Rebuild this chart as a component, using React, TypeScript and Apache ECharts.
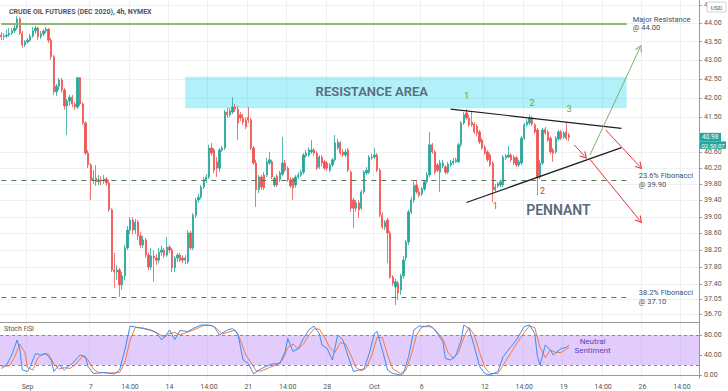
import React, { useEffect, useRef } from 'react';
import * as echarts from 'echarts';

const FONT = 'Roboto, "DejaVu Sans", sans-serif';

// ---------- time axis ----------
const tradingDays = [
  '08-28', '08-31', '09-01', '09-02', '09-03', '09-04',
  '09-07', '09-08', '09-09', '09-10', '09-11',
  '09-14', '09-15', '09-16', '09-17', '09-18',
  '09-21', '09-22', '09-23', '09-24', '09-25',
  '09-28', '09-29', '09-30', '10-01', '10-02',
  '10-05', '10-06', '10-07', '10-08', '10-09',
  '10-12', '10-13', '10-14', '10-15', '10-16',
  '10-19', '10-20', '10-21', '10-22', '10-23',
  '10-26', '10-27', '10-28', '10-29',
];
const barHours = ['02:00', '06:00', '10:00', '14:00', '18:00', '22:00'];
const firstBar = '08-28 10:00';
const lastBar = '10-29 14:00';

const xTickLabels: [string, string][] = [
  ['09-01 02:00', 'Sep'], ['09-07 02:00', '7'], ['09-09 14:00', '14:00'],
  ['09-14 02:00', '14'], ['09-16 14:00', '14:00'], ['09-21 02:00', '21'],
  ['09-23 14:00', '14:00'], ['09-28 02:00', '28'], ['10-01 02:00', 'Oct'],
  ['10-06 02:00', '6'], ['10-12 02:00', '12'], ['10-14 14:00', '14:00'],
  ['10-19 02:00', '19'], ['10-21 14:00', '14:00'], ['10-26 02:00', '26'],
  ['10-28 14:00', '14:00'],
];

// ---------- price axis ----------
const priceMin = 36.524;
const priceMax = 44.644;
const priceTicks = [44.5, 44, 43.5, 43, 42.5, 42, 41.5, 40.6, 40.2, 39.8, 39.4, 39, 38.6, 38.2, 37.8, 37.4, 37.05, 36.7];
const stochTicks = [80, 40, 0];

// ---------- candles: [open, close, low, high] ----------
const candles = [
  [43.68, 43.63, 43.54, 43.76], [43.63, 43.65, 43.54, 43.73], [43.65, 43.68, 43.60, 43.82], [43.68, 43.73, 43.63, 43.87], [43.73, 43.79, 43.68, 43.87],
  [43.79, 43.87, 43.73, 43.98], [43.87, 44.12, 43.82, 44.20], [44.12, 43.73, 43.68, 44.17], [43.73, 43.41, 43.33, 43.79], [43.41, 43.49, 43.35, 43.54],
  [43.49, 43.54, 43.44, 43.60], [43.54, 43.65, 43.49, 43.71], [43.65, 43.79, 43.60, 43.90], [43.79, 43.87, 43.71, 43.93], [43.87, 43.63, 43.54, 43.90],
  [43.63, 43.71, 43.57, 43.79], [43.71, 43.79, 43.65, 43.84], [43.79, 43.84, 43.73, 43.90], [43.84, 43.54, 43.46, 43.87], [43.54, 43.09, 43.01, 43.60],
  [43.09, 42.16, 42.08, 43.14], [42.16, 42.31, 42.05, 42.37], [42.31, 42.47, 42.21, 42.53], [42.47, 42.21, 42.13, 42.53], [42.21, 41.79, 41.69, 42.26],
  [41.79, 41.92, 41.04, 41.97], [41.92, 42.02, 41.79, 42.08], [42.02, 41.84, 41.76, 42.08], [41.84, 41.76, 41.69, 41.89], [41.76, 42.53, 41.71, 42.55],
  [42.53, 41.84, 41.79, 42.55], [41.84, 41.35, 41.30, 41.89], [41.35, 40.58, 40.53, 41.40], [40.58, 40.28, 40.20, 40.66], [40.28, 39.91, 39.41, 40.33],
  [39.91, 39.95, 39.81, 40.15], [39.95, 39.86, 39.76, 40.28], [39.86, 39.91, 39.78, 40.03], [39.91, 39.88, 39.78, 40.00], [39.88, 39.93, 39.81, 40.03],
  [39.93, 39.83, 39.76, 39.98], [39.83, 39.17, 39.12, 39.91], [39.17, 37.73, 37.68, 39.21], [37.73, 37.68, 37.31, 38.13], [37.68, 37.73, 37.49, 37.84],
  [37.73, 37.38, 37.10, 37.78], [37.38, 37.59, 37.26, 37.68], [37.59, 38.25, 37.49, 38.32], [38.25, 38.68, 38.20, 38.78], [38.68, 38.92, 38.58, 38.99],
  [38.92, 38.68, 38.58, 38.99], [38.68, 38.87, 38.58, 38.95], [38.87, 38.54, 38.44, 38.92], [38.54, 38.32, 38.25, 38.63], [38.32, 38.44, 38.25, 38.54],
  [38.44, 38.08, 38.01, 38.49], [38.08, 37.80, 37.73, 38.15], [37.80, 38.06, 37.73, 38.25], [38.06, 38.01, 37.45, 38.20], [38.01, 37.96, 37.84, 38.11],
  [37.96, 38.15, 37.89, 38.25], [38.15, 38.20, 38.06, 38.30], [38.20, 38.08, 38.01, 38.25], [38.08, 38.27, 38.04, 38.51], [38.27, 38.20, 38.13, 38.32],
  [38.20, 37.78, 37.68, 38.25], [37.78, 38.01, 37.68, 38.06], [38.01, 38.08, 37.92, 38.13], [38.08, 37.96, 37.92, 38.13], [38.01, 37.96, 37.89, 38.08],
  [37.96, 38.01, 37.87, 38.08], [37.92, 38.61, 37.87, 38.68], [38.61, 38.25, 38.20, 38.66], [38.25, 39.04, 38.20, 39.09], [39.04, 39.41, 38.97, 39.46],
  [39.41, 39.48, 39.34, 39.56], [39.48, 39.73, 39.43, 39.78], [39.73, 39.91, 39.68, 39.98], [39.91, 39.98, 39.83, 40.05], [39.98, 40.71, 39.93, 40.79],
  [40.71, 40.58, 40.51, 40.84], [40.66, 40.15, 40.08, 40.71], [40.36, 40.20, 39.98, 40.48], [40.20, 40.66, 40.10, 40.71], [40.66, 40.71, 40.61, 40.76],
  [40.71, 41.63, 40.66, 41.69], [41.63, 41.56, 41.48, 41.74], [41.56, 41.66, 41.50, 41.74], [41.63, 41.76, 41.58, 42.02], [41.76, 41.71, 41.63, 41.84],
  [41.71, 41.35, 40.91, 41.79], [41.56, 41.48, 41.40, 41.63], [41.48, 41.37, 41.30, 41.58], [41.43, 41.25, 41.19, 41.50], [41.50, 41.43, 41.35, 41.76],
  [41.43, 40.71, 40.66, 41.48], [40.71, 40.33, 40.28, 40.76], [40.33, 39.66, 39.24, 40.41], [39.66, 39.98, 39.58, 40.03], [39.98, 39.73, 39.66, 40.03],
  [40.03, 39.71, 39.66, 40.10], [40.03, 40.36, 39.98, 40.46], [40.33, 40.41, 40.28, 40.61], [40.36, 39.98, 39.93, 40.41], [39.78, 39.95, 39.73, 40.00],
  [40.00, 39.78, 39.73, 40.05], [39.91, 40.08, 39.86, 40.13], [40.05, 40.33, 40.00, 40.99], [40.33, 40.15, 40.10, 40.41], [40.20, 39.91, 39.86, 40.25],
  [39.91, 39.76, 39.71, 39.98], [39.95, 39.71, 39.41, 39.95], [39.78, 39.98, 39.71, 40.03], [39.98, 40.03, 39.93, 40.10], [40.03, 40.10, 39.98, 40.15],
  [40.10, 40.53, 40.05, 40.58], [40.51, 40.58, 40.46, 40.66], [40.53, 40.66, 40.48, 40.73], [40.61, 40.66, 40.56, 40.91], [40.66, 40.58, 40.51, 40.71],
  [40.58, 40.20, 40.15, 40.63], [40.23, 40.48, 40.18, 40.53], [40.48, 40.33, 40.25, 40.53], [40.36, 40.20, 40.15, 40.41], [40.33, 40.20, 40.13, 40.38],
  [40.15, 40.28, 40.10, 40.33], [40.28, 40.41, 40.23, 40.46], [40.41, 40.84, 40.36, 41.04], [40.71, 40.86, 40.66, 40.94], [40.84, 40.58, 40.53, 40.89],
  [40.61, 40.53, 40.48, 40.68], [40.53, 40.61, 40.48, 40.68], [40.66, 40.15, 40.10, 40.71], [40.10, 39.21, 39.12, 40.15], [39.41, 39.21, 38.73, 39.46],
  [39.21, 39.34, 39.12, 39.41], [39.34, 39.17, 38.97, 39.41], [39.21, 39.61, 39.17, 39.66], [39.61, 40.10, 39.56, 40.15], [40.08, 40.15, 40.03, 40.23],
  [40.10, 40.48, 40.05, 40.53], [40.46, 40.48, 40.41, 40.56], [40.48, 40.53, 40.43, 40.71], [40.53, 40.15, 40.10, 40.58], [40.15, 39.04, 38.99, 40.20],
  [39.04, 38.75, 38.70, 39.12], [38.75, 38.87, 38.68, 38.92], [38.92, 38.61, 37.89, 38.97], [38.61, 37.56, 37.52, 38.66], [37.56, 37.42, 37.35, 37.61],
  [37.33, 37.45, 36.91, 37.52], [37.42, 37.19, 37.03, 37.47], [37.26, 37.59, 37.15, 37.64], [37.59, 37.96, 37.52, 38.06], [38.01, 38.39, 37.94, 38.44],
  [38.39, 39.12, 38.32, 39.17], [39.12, 39.41, 39.07, 39.48], [39.41, 39.76, 39.34, 39.86], [39.78, 39.61, 39.56, 39.91], [39.61, 39.53, 39.48, 39.71],
  [39.56, 39.68, 39.51, 39.73], [39.68, 39.86, 39.63, 39.91], [39.86, 40.03, 39.81, 40.10], [40.03, 40.79, 39.98, 41.12], [40.79, 40.61, 40.56, 40.84],
  [40.61, 40.10, 40.05, 40.66], [40.28, 40.15, 40.10, 40.33], [40.10, 40.33, 39.61, 40.41], [40.25, 40.33, 40.20, 40.41], [40.23, 40.10, 40.05, 40.28],
  [40.10, 40.30, 40.05, 40.36], [40.28, 40.33, 40.23, 40.41], [40.33, 40.38, 40.28, 40.46], [40.36, 40.41, 40.33, 40.46], [40.36, 40.79, 40.33, 40.84],
  [40.79, 41.35, 40.73, 41.40], [41.35, 41.56, 41.30, 41.63], [41.61, 41.48, 41.43, 41.71], [41.48, 41.30, 41.25, 41.56], [41.37, 41.30, 41.25, 41.63],
  [41.32, 41.12, 41.07, 41.37], [41.27, 41.09, 41.01, 41.32], [41.12, 40.86, 40.81, 41.17], [40.91, 40.71, 40.66, 40.96], [40.73, 40.58, 40.53, 40.79],
  [40.61, 40.41, 40.36, 40.66], [40.53, 40.28, 40.23, 40.58], [40.33, 39.66, 39.36, 40.38], [39.66, 39.73, 39.61, 39.81], [39.76, 39.81, 39.71, 39.86],
  [39.78, 39.86, 39.73, 39.91], [39.78, 40.48, 39.73, 40.53], [40.46, 40.51, 40.41, 40.56], [40.48, 40.53, 40.46, 40.76], [40.53, 40.41, 40.36, 40.58],
  [40.48, 40.33, 40.28, 40.53], [40.46, 40.28, 40.23, 40.51], [40.28, 40.36, 40.23, 40.41], [40.33, 40.96, 40.28, 41.01], [40.96, 41.30, 40.91, 41.35],
  [41.30, 41.37, 41.25, 41.45], [41.35, 41.48, 41.30, 41.56], [41.48, 41.32, 41.27, 41.53], [41.30, 41.12, 41.07, 41.35], [41.17, 39.98, 39.53, 41.22],
  [39.98, 40.33, 39.93, 40.41], [40.33, 41.17, 40.28, 41.22], [41.19, 41.09, 41.04, 41.25], [41.12, 40.91, 40.86, 41.17], [40.96, 40.61, 40.56, 41.01],
  [40.66, 40.58, 40.36, 40.71], [40.61, 40.96, 40.56, 41.01], [40.94, 41.12, 40.89, 41.17], [41.12, 40.96, 40.91, 41.17], [40.99, 41.09, 40.94, 41.14],
  [41.12, 40.96, 40.91, 41.37], [41.04, 40.98, 40.89, 41.09],
];
const lastPrice = 40.98;
const countdown = '02:50:07';

// ---------- Stoch RSI: [bar index, value] ----------
const stochK = [[0, 13], [2, 20], [4, 40], [6, 70], [7, 53], [8, 10], [10, 7], [11, 17], [13, 43], [15, 40], [17, 43], [19, 30], [20, 7], [22, 20], [24, 10], [25, 15], [27, 23], [30, 40], [32, 37], [33, 17], [35, 3], [39, 5], [43, 2], [45, 10], [47, 50], [49, 98], [52, 95], [54, 93], [57, 89], [59, 85], [61, 70], [63, 82], [64, 90], [66, 71], [68, 89], [71, 87], [73, 93], [76, 100], [79, 100], [81, 97], [83, 80], [86, 90], [88, 93], [90, 83], [92, 30], [94, 23], [96, 2], [98, 10], [101, 18], [103, 22], [106, 23], [108, 47], [109, 73], [111, 47], [113, 53], [115, 73], [117, 90], [119, 98], [121, 83], [122, 60], [124, 53], [126, 30], [128, 80], [130, 70], [132, 37], [134, 7], [136, 10], [138, 12], [140, 43], [142, 83], [143, 87], [145, 50], [147, 10], [149, 3], [152, 0], [153, 3], [155, 37], [157, 90], [159, 98], [161, 97], [163, 99], [165, 90], [168, 67], [169, 33], [171, 30], [173, 40], [175, 70], [176, 100], [178, 93], [180, 57], [182, 17], [184, 3], [186, 0], [189, 7], [191, 37], [194, 57], [196, 70], [199, 97], [201, 100], [203, 83], [204, 37], [205, 20], [207, 60], [209, 50], [210, 40], [213, 53], [215, 55], [216, 60]];
const stochD = [[0, 18], [3, 18], [5, 35], [7, 62], [9, 45], [10, 15], [12, 10], [14, 35], [16, 42], [18, 42], [20, 22], [22, 12], [24, 15], [26, 13], [28, 20], [31, 38], [33, 30], [35, 12], [37, 5], [41, 4], [45, 5], [47, 25], [49, 70], [51, 95], [54, 94], [57, 90], [60, 82], [62, 75], [64, 83], [66, 85], [68, 80], [71, 86], [74, 92], [77, 99], [80, 99], [82, 93], [84, 82], [86, 85], [89, 90], [91, 70], [93, 40], [95, 25], [97, 8], [99, 8], [102, 15], [105, 21], [107, 30], [109, 55], [111, 62], [113, 52], [115, 62], [117, 80], [119, 92], [121, 92], [123, 75], [125, 55], [127, 45], [129, 65], [131, 62], [133, 40], [135, 15], [137, 8], [139, 15], [141, 40], [143, 75], [145, 75], [147, 40], [149, 12], [152, 3], [154, 10], [156, 40], [158, 80], [160, 96], [162, 97], [164, 96], [166, 85], [168, 72], [170, 45], [172, 33], [174, 45], [176, 75], [178, 95], [180, 80], [182, 45], [184, 15], [186, 3], [189, 3], [191, 20], [194, 45], [196, 62], [199, 85], [201, 98], [203, 95], [205, 55], [207, 35], [209, 50], [211, 45], [213, 45], [216, 55]];
const stochBand = [20, 80];

// ---------- annotations (data coordinates: [bar index, price]) ----------
const majorResistance = 44.0;
const fib236 = 39.9;
const fib382 = 37.1;
const levelEndIndex = 238;
const resistanceArea = { fromIndex: 70, toIndex: 238, top: 42.56, bottom: 41.73 };
const pennantUpper = [[171, 41.71], [236, 41.21]];
const pennantLower = [[177, 39.35], [236, 40.72]];
const bullArrow = [[224, 40.53], [243, 43.33]];
const bearArrows = [
  [[218, 40.79], [222, 40.5]],
  [[230, 41.17], [243, 40.24]],
  [[224, 40.42], [243, 38.91]],
];
const topPivots: [number, number, string][] = [[177, 42.05, '1'], [202, 41.86, '2'], [216, 41.70, '3']];
const bottomPivots: [number, number, string][] = [[188, 39.26, '1'], [206, 39.62, '2']];
const resistanceText: [number, number] = [141, 42.18];
const pennantText: [number, number] = [212, 39.17];
const sentimentText: [number, number] = [225, 58];

const UP = '#26a69a';
const DOWN = '#ef5350';
const GRID = '#eef0f3';
const AXIS = '#9a9a9a';
const LABEL = '#555';
const CHEVRON = 'path://M0,10 L5,0 L10,10 L8.4,10 L5,3.2 L1.6,10 Z';

function buildCategories() {
  const all: string[] = [];
  tradingDays.forEach((d) => barHours.forEach((h) => all.push(`${d} ${h}`)));
  return all.slice(all.indexOf(firstBar), all.indexOf(lastBar) + 1);
}

export default function App() {
  const ref = useRef<HTMLDivElement>(null);
  useEffect(() => {
    document.body.style.margin = '0';
    const chart = echarts.init(ref.current!, null, { renderer: 'svg' });
    const categories = buildCategories();
    const labelMap = new Map(xTickLabels);
    const tickInterval = (_i: number, v: string) => labelMap.has(v);

    const arrowLine = (pts: number[][], color: string) => [
      { coord: pts[0], symbol: 'none', lineStyle: { color, width: 1, type: 'solid' } },
      { coord: pts[1], symbol: CHEVRON, symbolSize: [8, 7] },
    ];
    const plainLine = (pts: number[][], color: string, width: number) => [
      { coord: pts[0], symbol: 'none', lineStyle: { color, width, type: 'solid' } },
      { coord: pts[1], symbol: 'none' },
    ];
    const levelLine = (price: number, text: string, dashed: boolean, distance: number) => [
      {
        coord: [0, price], symbol: 'none',
        lineStyle: dashed ? { color: '#4f7f4f', width: 1, type: [5, 5] } : { color: '#8fb573', width: 2, type: 'solid' },
        label: { show: true, position: 'end', distance, formatter: text, color: '#3d4f66', fontSize: 7.5, lineHeight: 8.5, fontFamily: FONT, align: 'left' },
      },
      { coord: [levelEndIndex, price], symbol: 'none' },
    ];
    const textPoint = (coord: number[], text: string, color: string, size: number, weight: string | number = 'normal') => ({
      coord, value: text,
      label: { show: true, position: 'inside', formatter: text, color, fontSize: size, fontWeight: weight, fontFamily: FONT, lineHeight: size + 1 },
    });

    const option: any = {
      animation: false,
      textStyle: { fontFamily: FONT },
      title: {
        text: 'CRUDE OIL FUTURES (DEC 2020), 4h, NYMEX', left: 4, top: 3,
        textStyle: { fontSize: 7, fontWeight: 'bold', color: LABEL, fontFamily: FONT },
      },
      grid: [
        { left: 0, right: 29, top: 0, height: 322 },
        { left: 0, right: 29, top: 322, height: 56 },
      ],
      xAxis: [
        {
          type: 'category', gridIndex: 0, data: categories,
          axisLine: { show: true, lineStyle: { color: AXIS } }, axisTick: { show: false }, axisLabel: { show: false },
          splitLine: { show: true, interval: tickInterval, lineStyle: { color: GRID } },
        },
        {
          type: 'category', gridIndex: 1, data: categories,
          axisLine: { show: true, lineStyle: { color: AXIS } }, axisTick: { show: false },
          axisLabel: { show: true, interval: tickInterval, formatter: (v: string) => labelMap.get(v) || '', fontSize: 7, color: LABEL, margin: 5 },
          splitLine: { show: true, interval: tickInterval, lineStyle: { color: GRID } },
        },
      ],
      yAxis: [
        {
          type: 'log', logBase: 10, gridIndex: 0, position: 'right', min: priceMin, max: priceMax,
          axisLine: { show: true, lineStyle: { color: AXIS } },
          axisTick: { show: true, length: 3, customValues: priceTicks, lineStyle: { color: AXIS } },
          axisLabel: { customValues: priceTicks, formatter: (v: number) => v.toFixed(2), fontSize: 7, color: LABEL, margin: 5 },
          splitLine: { show: true, lineStyle: { color: GRID } },
        },
        {
          type: 'value', gridIndex: 1, position: 'right', min: -6, max: 106,
          axisLine: { show: true, lineStyle: { color: AXIS } },
          axisTick: { show: true, length: 3, customValues: stochTicks, lineStyle: { color: AXIS } },
          axisLabel: { customValues: stochTicks, formatter: (v: number) => v.toFixed(2), fontSize: 7, color: LABEL, margin: 5 },
          splitLine: { show: false },
        },
      ],
      graphic: [
        { id: 'stochTitle', type: 'text', left: 4, top: 325, style: { text: 'Stoch RSI', fontSize: 7, fill: LABEL, fontFamily: FONT } },
        { id: 'usdBox', type: 'rect', shape: { x: 707, y: 2, width: 19, height: 10, r: 1 }, style: { fill: '#fff', stroke: '#d0d3da', lineWidth: 1 }, z: 100 },
        { id: 'usdText', type: 'text', x: 716.5, y: 7, style: { text: 'USD', fontSize: 6, fill: LABEL, align: 'center', verticalAlign: 'middle', fontFamily: FONT }, z: 101 },
      ],
      series: [
        {
          type: 'candlestick', xAxisIndex: 0, yAxisIndex: 0, data: candles, barWidth: 1.8,
          itemStyle: { color: UP, color0: DOWN, borderColor: UP, borderColor0: DOWN, borderWidth: 0.8 },
          markArea: {
            silent: true,
            itemStyle: { color: 'rgba(0, 210, 235, 0.3)' },
            data: [[
              { coord: [resistanceArea.fromIndex, resistanceArea.top] },
              { coord: [resistanceArea.toIndex, resistanceArea.bottom] },
            ]],
          },
          markLine: {
            silent: true, symbol: ['none', 'none'], label: { show: false }, emphasis: { disabled: true },
            data: [
              levelLine(majorResistance, 'Major Resistance\n@ 44.00', false, 6),
              levelLine(fib236, '23.6% Fibonacci\n@ 39.90', true, 12),
              levelLine(fib382, '38.2% Fibonacci\n@ 37.10', true, 12),
              plainLine(pennantUpper, '#1e1e1e', 1.2),
              plainLine(pennantLower, '#1e1e1e', 1.2),
              arrowLine(bullArrow, '#7fb069'),
              ...bearArrows.map((a) => arrowLine(a, '#e8363f')),
            ],
          },
          markPoint: {
            silent: true, symbol: 'circle', symbolSize: 1, itemStyle: { color: 'rgba(0,0,0,0)' },
            data: [
              textPoint(resistanceText, 'RESISTANCE AREA', '#5a6b7c', 13, 600),
              textPoint(pennantText, 'PENNANT', '#5a6b7c', 14, 600),
              ...topPivots.map((p) => textPoint([p[0], p[1]], p[2], '#4caf50', 9)),
              ...bottomPivots.map((p) => textPoint([p[0], p[1]], p[2], '#e53935', 9)),
            ],
          },
        },
        {
          type: 'line', xAxisIndex: 1, yAxisIndex: 1, data: stochD, symbol: 'none', showSymbol: false,
          lineStyle: { color: '#f5793b', width: 1 },
        },
        {
          type: 'line', xAxisIndex: 1, yAxisIndex: 1, data: stochK, symbol: 'none', showSymbol: false,
          lineStyle: { color: '#3d8bf2', width: 1 },
          markArea: {
            silent: true, itemStyle: { color: 'rgba(170, 110, 245, 0.35)' },
            data: [[{ yAxis: stochBand[0] }, { yAxis: stochBand[1] }]],
          },
          markLine: {
            silent: true, symbol: ['none', 'none'], label: { show: false },
            lineStyle: { color: '#8a8a8a', type: [3, 3], width: 1 },
            data: [{ yAxis: stochBand[1] }, { yAxis: stochBand[0] }],
          },
          markPoint: {
            silent: true, symbol: 'circle', symbolSize: 1, itemStyle: { color: 'rgba(0,0,0,0)' },
            data: [textPoint(sentimentText, 'Neutral\nSentiment', '#6a3fb5', 8)],
          },
        },
      ],
    };
    chart.setOption(option);

    // current-price tag on the right price scale, positioned through the axis scale
    const py = chart.convertToPixel({ yAxisIndex: 0 }, lastPrice) as number;
    const rect = (chart as any).getModel().getComponent('grid', 0).coordinateSystem.getRect();
    const ax = rect.x + rect.width + 1;
    chart.setOption({
      graphic: [
        { id: 'priceBox', type: 'rect', shape: { x: ax, y: py - 4.5, width: 21, height: 8.5 }, style: { fill: UP }, z: 100 },
        { id: 'priceText', type: 'text', x: ax + 2, y: py - 0.2, style: { text: lastPrice.toFixed(2), fontSize: 6.5, fill: '#fff', verticalAlign: 'middle', fontFamily: FONT }, z: 101 },
        { id: 'cdBox', type: 'rect', shape: { x: ax, y: py + 4, width: 26, height: 7.5 }, style: { fill: UP }, z: 100 },
        { id: 'cdText', type: 'text', x: ax + 1.5, y: py + 7.8, style: { text: countdown, fontSize: 6, fill: '#fff', verticalAlign: 'middle', fontFamily: FONT }, z: 101 },
      ],
    });
    return () => chart.dispose();
  }, []);
  return <div ref={ref} style={{ width: 728, height: 391 }} />;
}
